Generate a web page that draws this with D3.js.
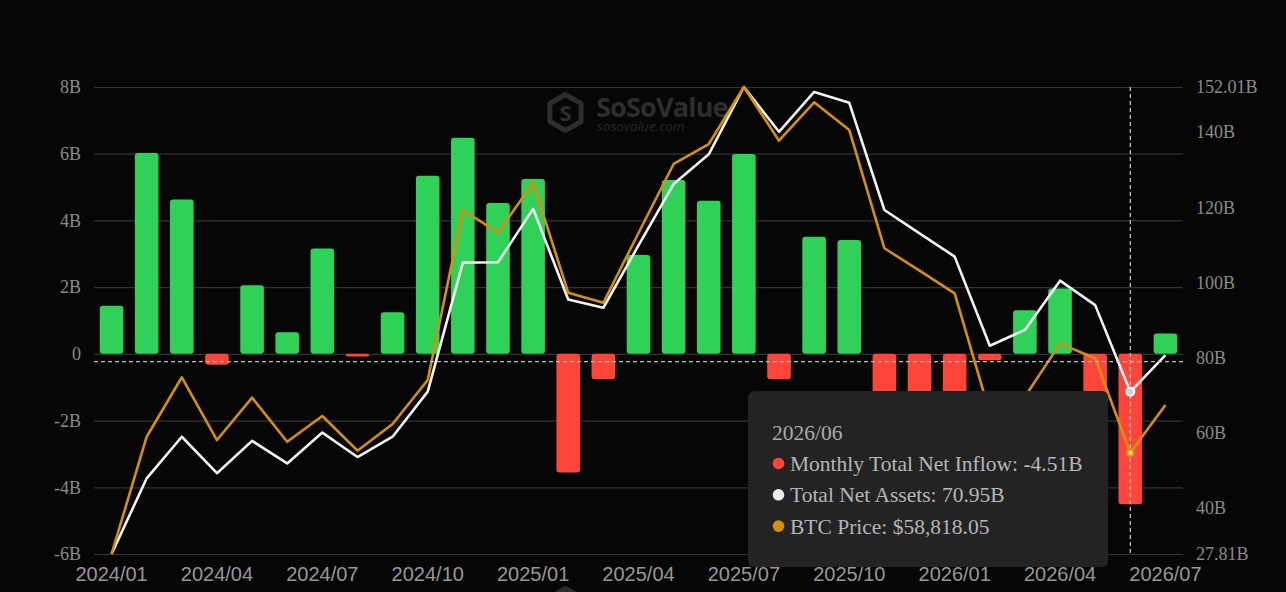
<!DOCTYPE html>
<html>
<head>
<meta charset="utf-8">
<script src="https://cdn.jsdelivr.net/npm/d3@7"></script>
<style>
  body { margin: 0; background: #060606; overflow: hidden; }
</style>
</head>
<body>
<div id="chart"></div>
<script>
// Months shown on the category axis
const months = [
  "2024/01","2024/02","2024/03","2024/04","2024/05","2024/06","2024/07","2024/08","2024/09","2024/10",
  "2024/11","2024/12","2025/01","2025/02","2025/03","2025/04","2025/05","2025/06","2025/07","2025/08",
  "2025/09","2025/10","2025/11","2025/12","2026/01","2026/02","2026/03","2026/04","2026/05","2026/06","2026/07"
];

// Monthly Total Net Inflow (B)
const inflow = [
  1.44, 6.02, 4.63, -0.33, 2.06, 0.65, 3.16, -0.08, 1.25, 5.34,
  6.48, 4.52, 5.24, -3.56, -0.76, 2.96, 5.21, 4.59, 5.99, -0.76,
  3.51, 3.41, -3.48, -1.25, -1.61, -0.19, 1.31, 1.96, -1.93, -4.51, 0.61
];

// Total Net Assets (B)
const assets = [
  27.81, 47.94, 59.0, 49.3, 57.9, 51.9, 60.1, 53.6, 59.0, 71.0,
  105.3, 105.4, 119.6, 95.5, 93.3, 109.9, 126.2, 134.1, 152.01, 140.1,
  150.7, 147.8, 119.3, 113.1, 106.9, 83.2, 87.4, 100.5, 94.0, 70.95, 80.7
];

// BTC Price ($)
const btc = [
  42580, 61380, 70910, 60850, 67640, 60580, 64700, 59140, 63420, 70470,
  97720, 94090, 102100, 84470, 82860, 94040, 105100, 108300, 117440, 108830,
  114990, 110550, 91590, 87990, 84370, 65180, 67800, 76300, 73950, 58818.05, 66470
];

// Axis ticks
const leftTicks = [-6, -4, -2, 0, 2, 4, 6, 8];
const rightTicks = [27.81, 40, 60, 80, 100, 120, 140, 152.01];
const xTicks = months.filter((m, i) => i % 3 === 0);

// Tooltip content
const tipMonth = "2026/06";

const W = 1286, H = 592;
const plotLeft = 94, plotRight = 1183, plotTop = 87, plotBottom = 554;

const svg = d3.select("#chart")
  .append("svg")
  .attr("width", W)
  .attr("height", H)
  .style("display", "block");

svg.append("rect").attr("width", W).attr("height", H).attr("fill", "#060606");

// Watermarks (the lower one is mostly cut off by the frame, so only its icon is drawn)
function watermark(dy, withText) {
  const g = svg.append("g").attr("transform", `translate(0, ${dy})`);
  const cx = 565.5, cy = 112.5, r = 18;
  const hex = d3.range(6).map(k => {
    const a = Math.PI / 3 * k - Math.PI / 2;
    return [cx + r * Math.cos(a), cy + r * Math.sin(a)];
  });
  g.append("path")
    .attr("d", d3.line()(hex) + "Z")
    .attr("fill", "none")
    .attr("stroke", "#2d2d2d")
    .attr("stroke-width", 5)
    .attr("stroke-linejoin", "round");
  if (!withText) return;
  g.append("text")
    .attr("x", cx).attr("y", cy + 8)
    .attr("text-anchor", "middle")
    .attr("font-family", "Noto Sans")
    .attr("font-weight", "bold")
    .attr("font-size", 22)
    .attr("fill", "#2d2d2d")
    .text("S");
  g.append("text")
    .attr("x", 596).attr("y", 117)
    .attr("font-family", "Open Sans")
    .attr("font-weight", "bold")
    .attr("font-size", 27)
    .attr("letter-spacing", -0.8)
    .attr("fill", "#2d2d2d")
    .text("SoSoValue");
  g.append("text")
    .attr("x", 597).attr("y", 131)
    .attr("font-family", "Open Sans")
    .attr("font-style", "italic")
    .attr("font-size", 13.5)
    .attr("fill", "#262626")
    .text("sosovalue.com");
}
watermark(0, true);
watermark(494, false);

// Scales
const x = d3.scaleBand().domain(months).range([plotLeft, plotRight]).paddingInner(0.328).paddingOuter(0.164);
const yL = d3.scaleLinear([-6, 8], [plotBottom, plotTop]);
const yR = d3.scaleLinear([27.81, 152.01], [plotBottom, plotTop]);
const yB = d3.scaleLinear(d3.extent(btc), [plotBottom, plotTop]);
const cxOf = m => x(m) + x.bandwidth() / 2;

// Grid lines
const grid = svg.append("g")
  .attr("transform", `translate(${plotLeft}, 0)`)
  .call(d3.axisLeft(yL).tickValues(leftTicks).tickSize(-(plotRight - plotLeft)).tickFormat(""));
grid.select(".domain").remove();
grid.selectAll("line").attr("stroke", "#333333").attr("stroke-width", 1.2);

// Left axis
const axL = svg.append("g")
  .attr("transform", `translate(${plotLeft}, 0)`)
  .call(d3.axisLeft(yL).tickValues(leftTicks).tickSize(0).tickPadding(13)
    .tickFormat(v => v === 0 ? "0" : v + "B"));
axL.select(".domain").remove();
axL.selectAll("text")
  .attr("font-family", "Liberation Serif")
  .attr("font-size", 18)
  .attr("fill", "#8a8a8a");

// Right axis
const axR = svg.append("g")
  .attr("transform", `translate(${plotRight}, 0)`)
  .call(d3.axisRight(yR).tickValues(rightTicks).tickSize(0).tickPadding(13)
    .tickFormat(v => v + "B"));
axR.select(".domain").remove();
axR.selectAll("text")
  .attr("font-family", "Liberation Serif")
  .attr("font-size", 18)
  .attr("fill", "#8a8a8a");

// Bottom axis
const axX = svg.append("g")
  .attr("transform", `translate(0, ${plotBottom})`)
  .call(d3.axisBottom(x).tickValues(xTicks).tickSize(0).tickPadding(13));
axX.select(".domain").remove();
axX.selectAll("text")
  .attr("font-family", "Liberation Sans")
  .attr("font-size", 20)
  .attr("fill", "#979797");

// Bars
svg.append("g")
  .selectAll("rect")
  .data(months)
  .join("rect")
  .attr("x", m => x(m))
  .attr("width", x.bandwidth())
  .attr("y", (m, i) => Math.min(yL(inflow[i]), yL(0)))
  .attr("height", (m, i) => Math.abs(yL(inflow[i]) - yL(0)))
  .attr("rx", 3)
  .attr("fill", (m, i) => inflow[i] >= 0 ? "#30d158" : "#ff453a");

// Lines
const assetLine = d3.line().x((m, i) => cxOf(m)).y((m, i) => yR(assets[i]));
const btcLine = d3.line().x((m, i) => cxOf(m)).y((m, i) => yB(btc[i]));

svg.append("path")
  .attr("d", assetLine(months))
  .attr("fill", "none")
  .attr("stroke", "#f2f2f2")
  .attr("stroke-width", 2.6)
  .attr("stroke-linejoin", "round");

svg.append("path")
  .attr("d", btcLine(months))
  .attr("fill", "none")
  .attr("stroke", "#d4900c")
  .attr("stroke-width", 2.6)
  .attr("stroke-linejoin", "round");

// Cross pointer
const ti = months.indexOf(tipMonth);
const px = cxOf(tipMonth);
svg.append("line")
  .attr("x1", plotLeft).attr("x2", plotRight)
  .attr("y1", 361.7).attr("y2", 361.7)
  .attr("stroke", "#bdbdbd").attr("stroke-width", 1.3)
  .attr("stroke-dasharray", "4,3");
svg.append("line")
  .attr("x1", px).attr("x2", px)
  .attr("y1", plotTop).attr("y2", plotBottom)
  .attr("stroke", "#bdbdbd").attr("stroke-width", 1.3)
  .attr("stroke-dasharray", "4,3");

// Highlight markers
svg.append("circle")
  .attr("cx", px).attr("cy", yR(assets[ti])).attr("r", 4)
  .attr("fill", "#cfcfcf").attr("stroke", "#ffffff").attr("stroke-width", 2);
svg.append("circle")
  .attr("cx", px).attr("cy", yB(btc[ti])).attr("r", 3.5)
  .attr("fill", "#e6cf8a").attr("stroke", "#d4900c").attr("stroke-width", 2);

// Tooltip
const tip = svg.append("g");
tip.append("rect")
  .attr("x", 748).attr("y", 391)
  .attr("width", 360).attr("height", 176)
  .attr("rx", 6)
  .attr("fill", "#232323");
tip.append("text")
  .attr("x", 772).attr("y", 432)
  .attr("dy", "0.35em")
  .attr("font-family", "Liberation Serif")
  .attr("font-size", 21.5)
  .attr("fill", "#ababab")
  .text(tipMonth);

const tipRows = [
  { color: "#ff453a", text: `Monthly Total Net Inflow: ${inflow[ti].toFixed(2)}B` },
  { color: "#ededed", text: `Total Net Assets: ${assets[ti].toFixed(2)}B` },
  { color: "#d4900c", text: `BTC Price: $${d3.format(",.2f")(btc[ti])}` }
];
tipRows.forEach((row, k) => {
  const cy = 463.5 + k * 31.3;
  tip.append("circle")
    .attr("cx", 778.5).attr("cy", cy).attr("r", 5.8)
    .attr("fill", row.color);
  tip.append("text")
    .attr("x", 790).attr("y", cy)
    .attr("dy", "0.35em")
    .attr("font-family", "Liberation Serif")
    .attr("font-size", 21.5)
    .attr("fill", "#b5b5b5")
    .text(row.text);
});
</script>
</body>
</html>
